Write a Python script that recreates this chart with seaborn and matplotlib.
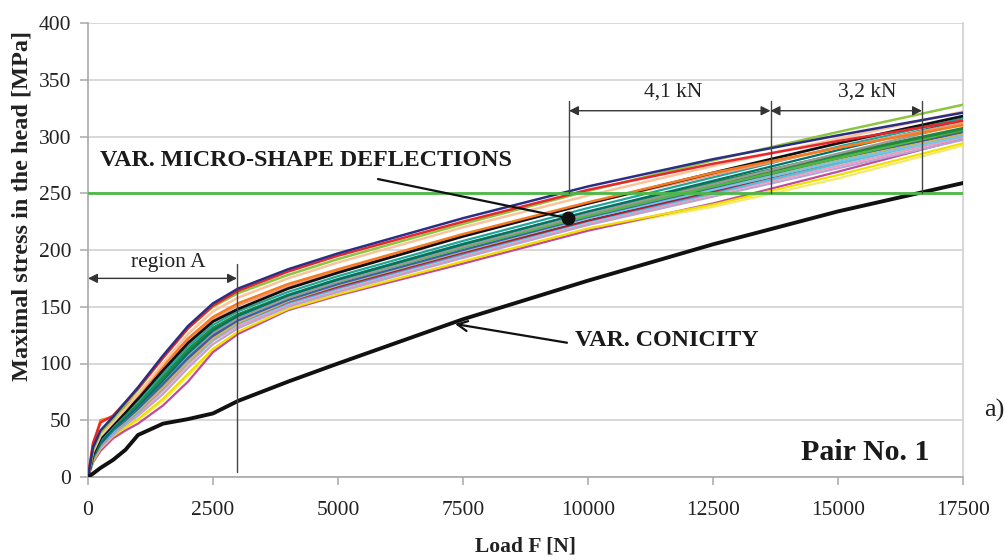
import numpy as np
import pandas as pd
import matplotlib
matplotlib.use("Agg")
import matplotlib.pyplot as plt
import seaborn as sns

# ---------------- data ----------------
load_N = [0, 100, 250, 500, 750, 1000, 1500, 2000, 2500, 3000, 4000, 5000, 7500, 10000, 12500, 15000, 17500]

conicity = [0, 3, 8, 15, 24, 37, 47, 51, 56, 67, 84, 100, 139, 173, 205, 234, 259]

m_navy      = [0, 26, 41, 53, 66, 79, 107, 133, 153, 166, 183, 197, 228, 256, 280, 301, 321]
m_red       = [0, 30, 48, 54, 66, 78, 105, 131, 151, 164, 181, 195, 225, 253, 276, 296, 314]
m_lightgrn  = [0, 24, 39, 51, 64, 77, 105, 131, 150, 162, 178, 192, 223, 252, 279, 304, 328]
m_peach     = [0, 22, 36, 48, 60, 73, 100, 126, 146, 158, 175, 189, 220, 248, 274, 298, 322]
m_orange    = [0, 28, 50, 53, 62, 72, 98, 122, 141, 153, 170, 183, 214, 242, 268, 290, 310]
m_black     = [0, 20, 34, 46, 57, 69, 94, 118, 137, 148, 166, 180, 212, 241, 268, 294, 318]
m_teal      = [0, 20, 33, 45, 56, 67, 91, 115, 134, 146, 163, 177, 208, 237, 264, 291, 316]
m_darkgrn   = [0, 19, 32, 44, 54, 64, 88, 112, 131, 143, 160, 174, 205, 233, 259, 284, 307]
m_green     = [0, 18, 31, 43, 53, 63, 86, 110, 129, 141, 158, 172, 202, 230, 256, 281, 306]
m_lightblue = [0, 17, 29, 41, 51, 60, 82, 106, 126, 139, 157, 170, 200, 228, 253, 278, 300]
m_gray      = [0, 19, 31, 42, 52, 62, 85, 108, 127, 140, 158, 172, 203, 232, 258, 285, 311]
m_purple    = [0, 16, 28, 40, 49, 58, 79, 103, 123, 136, 154, 167, 197, 226, 251, 280, 305]
m_maroon    = [0, 17, 30, 41, 50, 59, 80, 104, 124, 137, 155, 168, 198, 226, 252, 278, 304]
m_pink      = [0, 15, 27, 38, 47, 56, 76, 99, 120, 133, 151, 164, 194, 223, 249, 274, 299]
m_magenta   = [0, 13, 23, 34, 41, 47, 63, 84, 110, 126, 147, 160, 188, 217, 241, 269, 298]
m_yellow    = [0, 14, 25, 36, 44, 51, 69, 91, 113, 128, 148, 161, 190, 219, 240, 266, 294]
m_lavender  = [0, 15, 26, 37, 46, 54, 73, 96, 117, 131, 150, 163, 193, 222, 247, 272, 297]
m_cyan      = [0, 16, 27, 39, 48, 57, 78, 101, 121, 135, 153, 166, 196, 225, 250, 276, 301]
m_darkteal  = [0, 18, 30, 42, 52, 62, 85, 109, 129, 142, 160, 174, 205, 234, 261, 288, 314]
m_blue      = [0, 17, 29, 41, 50, 60, 82, 105, 125, 138, 156, 170, 200, 229, 255, 281, 304]
m_khaki     = [0, 16, 28, 40, 49, 58, 79, 102, 122, 136, 155, 169, 199, 228, 254, 279, 302]
m_salmon    = [0, 21, 35, 47, 58, 70, 96, 120, 139, 151, 168, 182, 213, 241, 266, 290, 312]
m_olive     = [0, 19, 32, 43, 53, 63, 87, 111, 130, 142, 160, 173, 204, 232, 257, 282, 305]
m_paleyel   = [0, 13, 24, 35, 43, 50, 67, 89, 111, 127, 147, 160, 189, 218, 238, 263, 292]

x_ticks = [0, 2500, 5000, 7500, 10000, 12500, 15000, 17500]
y_ticks = [0, 50, 100, 150, 200, 250, 300, 350, 400]
limit_stress = 250

micro_series = [
    ("m_paleyel", m_paleyel, "#f3e96a", 1.6),
    ("m_magenta", m_magenta, "#c04b9b", 1.6),
    ("m_yellow", m_yellow, "#f0e000", 1.6),
    ("m_pink", m_pink, "#f29ac0", 1.6),
    ("m_lavender", m_lavender, "#b9a3d1", 1.6),
    ("m_cyan", m_cyan, "#55c1d6", 1.6),
    ("m_purple", m_purple, "#8a63ab", 1.6),
    ("m_maroon", m_maroon, "#9b2335", 1.6),
    ("m_khaki", m_khaki, "#c9b46a", 1.6),
    ("m_lightblue", m_lightblue, "#72c7e7", 1.6),
    ("m_blue", m_blue, "#3a5fad", 1.6),
    ("m_olive", m_olive, "#5a7d2e", 1.6),
    ("m_green", m_green, "#4db848", 1.8),
    ("m_darkgrn", m_darkgrn, "#23893a", 2.4),
    ("m_gray", m_gray, "#9a9a9a", 1.6),
    ("m_darkteal", m_darkteal, "#00736a", 1.6),
    ("m_teal", m_teal, "#1fa59a", 1.6),
    ("m_salmon", m_salmon, "#f69679", 1.6),
    ("m_black", m_black, "#111111", 2.0),
    ("m_orange", m_orange, "#f47b20", 1.8),
    ("m_peach", m_peach, "#f9c49c", 1.8),
    ("m_lightgrn", m_lightgrn, "#8cc63f", 1.8),
    ("m_red", m_red, "#e8262b", 1.8),
    ("m_navy", m_navy, "#2b2e83", 1.8),
]

# ---------------- style ----------------
sns.set_theme(style="white")
plt.rcParams["font.family"] = ["Liberation Serif", "DejaVu Serif"]

fig = plt.figure(figsize=(10.06, 5.6), dpi=100)
ax = fig.add_axes([88 / 1006, 1 - 477 / 560, 875 / 1006, 454 / 560])

for name, vals, col, lw in micro_series:
    sns.lineplot(x=load_N, y=vals, color=col, lw=lw, ax=ax, zorder=3)

sns.lineplot(x=load_N, y=conicity, color="#111111", lw=2.8, ax=ax, zorder=4)

ax.axhline(limit_stress, color="#4cb848", lw=2.0, zorder=5)

ax.set_xlim(0, 17500)
ax.set_ylim(0, 400)
ax.set_xticks(x_ticks)
ax.set_yticks(y_ticks)
ax.set_xticklabels([str(v) for v in x_ticks])
ax.set_yticklabels([str(v) for v in y_ticks])

ax.yaxis.grid(True, color="#d6d6d6", lw=1.3, zorder=0)
ax.xaxis.grid(False)
ax.set_axisbelow(True)
ax.spines["top"].set_visible(False)
ax.spines["left"].set_color("#a8a8a8")
ax.spines["bottom"].set_color("#a8a8a8")
ax.spines["right"].set_color("#d0d0d0")
for s in ["left", "bottom", "right"]:
    ax.spines[s].set_linewidth(1.2)

ax.tick_params(axis="both", direction="out", length=6, width=1.1, color="#a8a8a8",
               labelsize=15.5, labelcolor="#222222")
ax.tick_params(axis="x", pad=11)
ax.tick_params(axis="y", pad=6)
ax.tick_params(axis="both", which="both", bottom=True, left=True)

ax.set_xlabel("Load F [N]", fontsize=15.5, fontweight="bold", color="#222222")
ax.set_ylabel("Maximal stress in the head [MPa]", fontsize=17.5, fontweight="bold", color="#222222")
ax.xaxis.set_label_coords(0.5, -0.132)
ax.yaxis.set_label_coords(-0.063, 0.597)

# ---------------- annotations ----------------
dim_col = "#444444"
# region A
ax.plot([2980, 2980], [4, 188], color=dim_col, lw=1.0, zorder=6)
ax.annotate("", xy=(0, 175), xytext=(2980, 175),
            arrowprops=dict(arrowstyle="<|-|>", color="#333333", lw=1.0,
                            mutation_scale=14, shrinkA=0, shrinkB=0), zorder=6)
ax.text(1600, 189, "region A", ha="center", va="center", fontsize=15.5, color="#222222")

# 4,1 kN and 3,2 kN
for xv in [9620, 13650, 16680]:
    ax.plot([xv, xv], [250, 331], color=dim_col, lw=1.0, zorder=6)
ax.annotate("", xy=(9620, 322.7), xytext=(13650, 322.7),
            arrowprops=dict(arrowstyle="<|-|>", color="#333333", lw=1.0,
                            mutation_scale=14, shrinkA=0, shrinkB=0), zorder=6)
ax.annotate("", xy=(13650, 322.7), xytext=(16680, 322.7),
            arrowprops=dict(arrowstyle="<|-|>", color="#333333", lw=1.0,
                            mutation_scale=14, shrinkA=0, shrinkB=0), zorder=6)
ax.text(11700, 339, "4,1 kN", ha="center", va="center", fontsize=15.5, color="#222222")
ax.text(15580, 339, "3,2 kN", ha="center", va="center", fontsize=15.5, color="#222222")

# micro-shape label
ax.text(240, 279, "VAR. MICRO-SHAPE DEFLECTIONS", ha="left", va="center",
        fontsize=17.3, fontweight="bold", color="#1a1a1a")
ax.plot([5800, 9600], [262.5, 228], color="#111111", lw=1.6, zorder=7)
ax.plot([9600], [228], marker="o", ms=9, color="#111111", zorder=8)

# conicity label
ax.annotate("", xy=(7340, 134.8), xytext=(9580, 118.3),
            arrowprops=dict(arrowstyle="->", color="#111111", lw=1.6,
                            mutation_scale=18, shrinkA=0, shrinkB=0), zorder=7)
ax.text(9740, 120, "VAR. CONICITY", ha="left", va="center",
        fontsize=17.3, fontweight="bold", color="#1a1a1a")

ax.text(15540, 22, "Pair No. 1", ha="center", va="center",
        fontsize=21.5, fontweight="bold", color="#1a1a1a")

fig.text(0.9885, 1 - 410 / 560, "a)", ha="center", va="center", fontsize=19, color="#222222")

fig.savefig("out.png", dpi=100)
